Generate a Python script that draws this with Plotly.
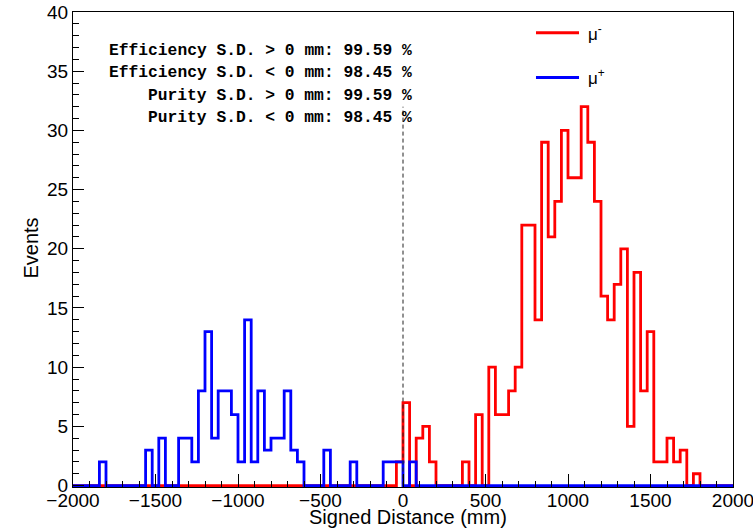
import numpy as np
import plotly.graph_objects as go

# Histogram binning (mm)
x_min, x_max, bin_width = -2000, 2000, 40

# Counts per 40 mm bin, from -2000 to 2000 (100 bins)
mu_minus = [
    0, 0, 0, 0, 0, 0, 0, 0, 0, 0,
    0, 0, 0, 0, 0, 0, 0, 0, 0, 0,
    0, 0, 0, 0, 0, 0, 0, 0, 0, 0,
    0, 0, 0, 0, 0, 0, 0, 0, 0, 0,
    0, 0, 0, 0, 0, 0, 0, 0, 0, 2,
    7, 0, 4, 5, 2, 0, 0, 0, 0, 2,
    0, 6, 0, 10, 6, 6, 8, 10, 22, 22,
    14, 29, 21, 24, 30, 26, 26, 32, 29, 24,
    16, 14, 17, 20, 5, 18, 8, 13, 2, 2,
    4, 2, 3, 0, 1, 0, 0, 0, 0, 0,
]
mu_plus = [
    0, 0, 0, 0, 2, 0, 0, 0, 0, 0,
    0, 3, 0, 4, 0, 0, 4, 4, 2, 8,
    13, 4, 8, 8, 6, 2, 14, 2, 8, 3,
    4, 4, 8, 3, 2, 0, 0, 0, 3, 0,
    0, 0, 2, 0, 0, 0, 0, 2, 2, 2,
    0, 2, 0, 0, 0, 0, 0, 0, 0, 0,
    0, 0, 0, 0, 0, 0, 0, 0, 0, 0,
    0, 0, 0, 0, 0, 0, 0, 0, 0, 0,
    0, 0, 0, 0, 0, 0, 0, 0, 0, 0,
    0, 0, 0, 0, 0, 0, 0, 0, 0, 0,
]

info_lines = [
    "Efficiency S.D. > 0 mm: 99.59 %",
    "Efficiency S.D. < 0 mm: 98.45 %",
    "Purity S.D. > 0 mm: 99.59 %",
    "Purity S.D. < 0 mm: 98.45 %",
]
legend_labels = ["\u03bc<sup>-</sup>", "\u03bc<sup>+</sup>"]
x_title = "Signed Distance (mm)"
y_title = "Events"
x_ticks = [-2000, -1500, -1000, -500, 0, 500, 1000, 1500, 2000]
y_ticks = [0, 5, 10, 15, 20, 25, 30, 35, 40]

edges = np.arange(x_min, x_max + bin_width, bin_width)


def step_y(counts):
    c = list(counts)
    return c + [c[-1]]


fig = go.Figure()
fig.add_trace(go.Scatter(x=edges, y=step_y(mu_minus), mode="lines", line_shape="hv",
                         line=dict(color="#ff0000", width=2.8), showlegend=False))
fig.add_trace(go.Scatter(x=edges, y=step_y(mu_plus), mode="lines", line_shape="hv",
                         line=dict(color="#0000ff", width=2.8), showlegend=False))
peak = max(max(mu_minus), max(mu_plus))
fig.add_trace(go.Scatter(x=[0, 0], y=[0, peak], mode="lines",
                         line=dict(color="#222222", width=1, dash="4px,3px"),
                         showlegend=False))

# Info text (right aligned)
ys = [0.9198, 0.8724, 0.8249, 0.7774]
for txt, yy in zip(info_lines, ys):
    fig.add_annotation(x=0.516, y=yy, xref="paper", yref="paper", text=txt,
                       showarrow=False, xanchor="right", yanchor="middle",
                       font=dict(family="Liberation Mono", size=16.3, color="black", weight="bold"))

# Manual legend
leg_cols = ["#ff0000", "#0000ff"]
leg_y = [0.9563, 0.8622]
for lab, col, yy in zip(legend_labels, leg_cols, leg_y):
    fig.add_shape(type="line", xref="paper", yref="paper", x0=0.7015, x1=0.7667,
                  y0=yy, y1=yy, line=dict(color=col, width=3))
    fig.add_annotation(x=0.778, y=yy, xref="paper", yref="paper", text=lab,
                       showarrow=False, xanchor="left", yanchor="middle",
                       font=dict(family="Liberation Sans", size=17, color="black"))

# Axis titles
title_font = dict(family="Liberation Sans", size=20, color="black")
fig.add_annotation(x=0.5076, y=-0.0085, xref="paper", yref="paper", text=x_title,
                   showarrow=False, xanchor="center", yanchor="top", yshift=-13,
                   font=title_font)
fig.add_annotation(x=-0.0636, y=0.502, xref="paper", yref="paper", text=y_title,
                   showarrow=False, xanchor="center", yanchor="middle", textangle=-90,
                   font=title_font)

axis_font = dict(family="Liberation Sans", size=19, color="black")
fig.update_layout(
    width=753, height=529,
    margin=dict(l=73, r=20, t=12, b=42),
    plot_bgcolor="white", paper_bgcolor="white",
    font=dict(family="Liberation Sans", color="black"),
    xaxis=dict(range=[x_min, x_max], tickvals=x_ticks, ticks="inside", ticklen=13,
               tickcolor="black", tickwidth=1, showgrid=False, zeroline=False,
               showline=True, linecolor="black", linewidth=1.3, mirror=True,
               tickfont=axis_font, ticklabeloverflow="allow", automargin=False,
               ticklabelstandoff=-4,
               minor=dict(ticks="inside", ticklen=6, dtick=100, tickcolor="black", showgrid=False)),
    yaxis=dict(range=[-0.12, 40], tickvals=y_ticks, ticks="inside", ticklen=11,
               tickcolor="black", tickwidth=1, showgrid=False, zeroline=False,
               showline=True, linecolor="black", linewidth=1.3, mirror=True,
               tickfont=axis_font, automargin=False,
               minor=dict(ticks="inside", ticklen=6, dtick=1, tickcolor="black", showgrid=False)),
)

fig.write_html("out.html")
